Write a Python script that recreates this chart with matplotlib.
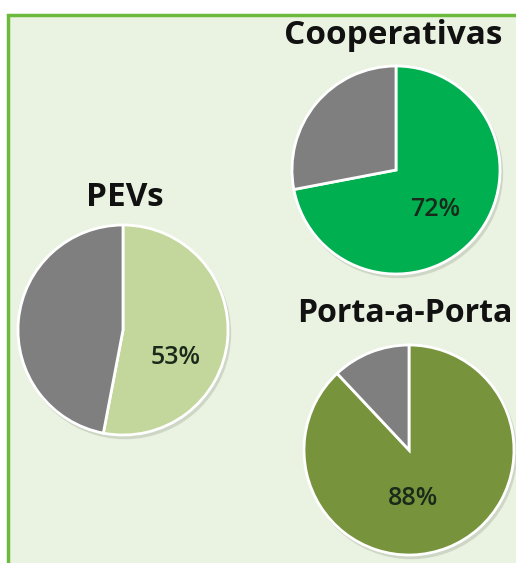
import matplotlib
matplotlib.use("Agg")
import matplotlib.pyplot as plt
from matplotlib.patches import Rectangle, Circle

# data
titles = ["PEVs", "Cooperativas", "Porta-a-Porta"]
shares = [53, 72, 88]
colors = ["#c3d69b", "#00b050", "#77933c"]
rest_color = "#7f7f7f"

W, H = 516, 563
fig = plt.figure(figsize=(W / 100, H / 100), dpi=100)
fig.patch.set_facecolor("white")

# panel background + green frame (pixel coords, origin top-left)
def px(x, y):
    return x / W, 1 - y / H

bx, by = px(8, 15)
fig.patches.append(Rectangle((bx, -0.2), 1.2, by + 0.2, transform=fig.transFigure,
                             facecolor="#eaf3e2", edgecolor="#6cbb3c",
                             linewidth=2.5, zorder=-5))

# layout in pixels: pie centre, radius, title centre, title size, label offset (in radii)
layout = [
    dict(c=(123, 330), r=105, t=(125, 197), fs=24, lab=(0.50, -0.26)),
    dict(c=(396, 170), r=104, t=(393, 35), fs=24, lab=(0.38, -0.38)),
    dict(c=(409, 450), r=105, t=(405, 313), fs=23, lab=(0.04, -0.46)),
]

for name, pct, col, L in zip(titles, shares, colors, layout):
    cx, cy = L["c"]
    r = L["r"]
    pad = 1.06
    size = 2 * r * pad
    x0, y1 = px(cx - size / 2, cy + size / 2)
    ax = fig.add_axes([x0, y1, size / W, size / H])
    ax.axis("off")
    # soft shadow
    ax.add_patch(Circle((0.02, -0.03), 1.01, color="#9aa392", alpha=0.35, lw=0, zorder=0))
    ax.pie([pct, 100 - pct], colors=[col, rest_color], startangle=90,
           counterclock=False, radius=1,
           wedgeprops=dict(edgecolor="white", linewidth=2))
    ax.set_xlim(-pad, pad)
    ax.set_ylim(-pad, pad)
    ax.set_aspect("equal")
    ax.text(L["lab"][0], L["lab"][1], f"{pct}%", ha="center", va="center",
            fontsize=18, family="Open Sans", fontweight="semibold", color="#1a2a1a")
    tx, ty = px(*L["t"])
    fig.text(tx, ty, name, ha="center", va="center", fontsize=L["fs"],
             family="Open Sans", fontweight="bold", color="#111111")

fig.savefig("out.png", dpi=100)
